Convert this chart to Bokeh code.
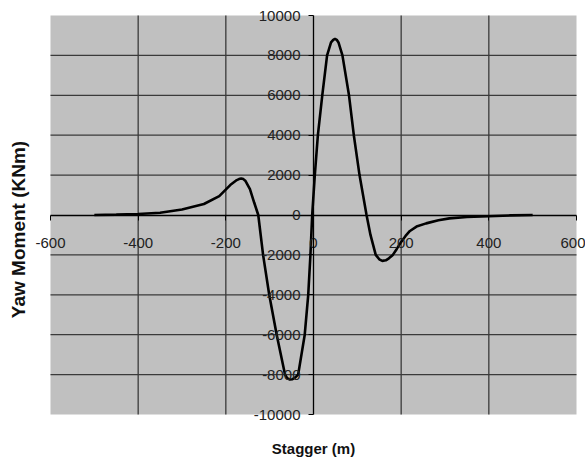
import math
from bokeh.plotting import figure
from bokeh.models import Range1d, LinearAxis, FixedTicker, Label, BoxAnnotation, PrintfTickFormatter
from bokeh.embed import file_html
from bokeh.resources import INLINE

# data (Stagger m, Yaw moment kNm)
stagger = [-500, -450, -400, -350, -300, -250, -215, -190, -175, -170, -165, -160, -155, -145,
           -135, -126, -115, -101, -84, -65, -60, -54, -48, -42, -35, -20, -12, -7, -3,
           3, 10, 20, 31, 40, 45, 49, 53, 57, 66, 81, 92, 105, 121, 130, 142, 150, 157, 165, 172,
           181, 190, 200, 210, 220, 235, 257, 285, 310, 350, 400, 450, 500]
yaw = [0, 20, 50, 110, 280, 550, 950, 1500, 1750, 1800, 1830, 1800, 1700, 1300,
       600, 0, -2000, -4000, -6000, -8000, -8180, -8250, -8230, -8150, -8000, -6000, -4000, -2000, 0,
       2000, 4000, 6000, 8000, 8650, 8780, 8830, 8780, 8650, 8000, 6000, 4000, 2000, 0, -1000, -2000,
       -2220, -2300, -2270, -2170,
       -2000, -1700, -1350, -1050, -800, -580, -420, -260, -170, -100, -60, -20, 0]

x_ticks = [-600, -400, -200, 0, 200, 400, 600]
y_ticks = [-10000, -8000, -6000, -4000, -2000, 0, 2000, 4000, 6000, 8000, 10000]
x_grid = [-400, -200, 200, 400]
y_grid = [-8000, -6000, -4000, -2000, 2000, 4000, 6000, 8000]
x_title = "Stagger (m)"
y_title = "Yaw Moment (KNm)"

FONT = "Liberation Sans"

W, H = 585, 458
# plot area (grey box) in pixels: left 50, right 576, top 15, bottom 414
xmin, xmax = x_ticks[0], x_ticks[-1]
ymin, ymax = y_ticks[0], y_ticks[-1]
sx = (576 - 50) / (xmax - xmin)
sy = (414 - 15) / (ymax - ymin)
x_range = Range1d(xmin - 50 / sx, xmax + (W - 576) / sx)
y_range = Range1d(ymin - (H - 414) / sy, ymax + 15 / sy)

p = figure(width=W, height=H, output_backend="svg", toolbar_location=None,
           x_range=x_range, y_range=y_range,
           x_axis_location=None, y_axis_location=None,
           min_border=0, min_border_left=0, min_border_right=0, min_border_top=0, min_border_bottom=0)
p.background_fill_color = "white"
p.border_fill_color = "white"
p.outline_line_color = None
p.grid.visible = False

p.add_layout(BoxAnnotation(left=xmin, right=xmax, bottom=ymin, top=ymax,
                           fill_color="#c0c0c0", fill_alpha=1.0, line_color=None, level="underlay"))

# grid lines inside the grey plot area
p.segment(x0=x_grid, y0=[ymin] * len(x_grid), x1=x_grid, y1=[ymax] * len(x_grid),
          line_color="#3a3a3a", line_width=1.3)
p.segment(x0=[xmin] * len(y_grid), y0=y_grid, x1=[xmax] * len(y_grid), y1=y_grid,
          line_color="#3a3a3a", line_width=1.3)

xa = LinearAxis(ticker=FixedTicker(ticks=x_ticks), fixed_location=0, bounds=(xmin, xmax))
ya = LinearAxis(ticker=FixedTicker(ticks=y_ticks), fixed_location=0, bounds=(ymin, ymax))
for ax in (xa, ya):
    ax.formatter = PrintfTickFormatter(format="%d")
    ax.axis_line_color = "black"
    ax.axis_line_width = 1.3
    ax.major_tick_line_color = "black"
    ax.major_tick_in = 0
    ax.major_tick_out = 5
    ax.minor_tick_line_color = None
    ax.major_label_text_font = FONT
    ax.major_label_text_font_size = "15px"
    ax.major_label_text_color = "#222222"
xa.major_label_standoff = 18
ya.major_label_standoff = 8
p.add_layout(xa, "below")
p.add_layout(ya, "left")

p.line(stagger, yaw, line_color="black", line_width=2.6)

p.add_layout(Label(x=313, y=H - 448, x_units="screen", y_units="screen", text=x_title,
                   text_align="center", text_baseline="middle",
                   text_font=FONT, text_font_style="bold", text_font_size="15px", text_color="#111111"))
p.add_layout(Label(x=18, y=H - 229, x_units="screen", y_units="screen", text=y_title,
                   angle=math.pi / 2, text_align="center",
                   text_baseline="middle", text_font=FONT, text_font_style="bold",
                   text_font_size="19px", text_color="#111111"))

open("out.html", "w").write(file_html(p, INLINE))
